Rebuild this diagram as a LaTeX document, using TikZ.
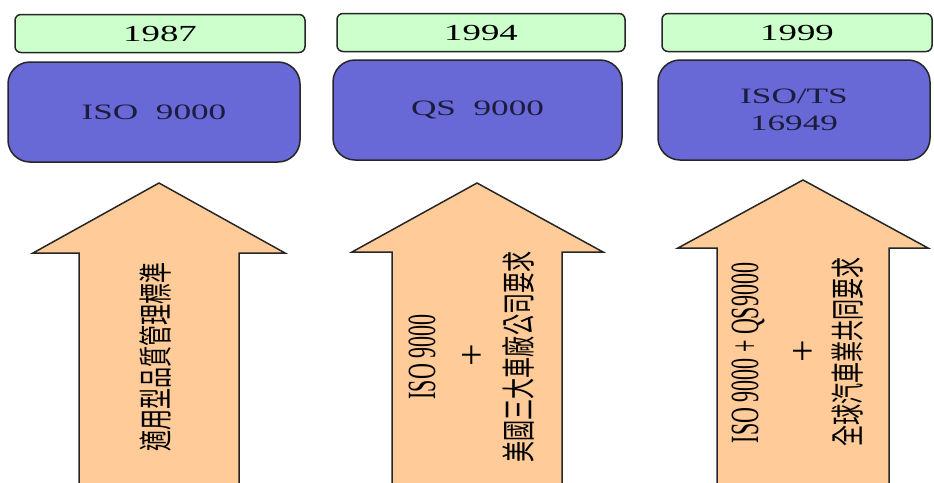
\documentclass[tikz,border=0pt]{standalone}
\usepackage{fontspec}
\usepackage{tikz}
\setmainfont{Liberation Serif}
\newfontfamily\widefont[FakeStretch=1.6]{Liberation Serif}
\newfontfamily\narrowfont[FakeStretch=0.55]{Liberation Serif}
\newfontfamily\cjkfont[FakeStretch=0.62]{Noto Sans CJK TC}
\definecolor{yeargreen}{RGB}{204,255,204}
\definecolor{stdblue}{RGB}{104,104,214}
\definecolor{arrowpeach}{RGB}{255,204,153}
\definecolor{stdtext}{RGB}{28,28,60}

\begin{document}
\begin{tikzpicture}[x=1pt,y=-1pt,
        yearbox/.style={draw=black!85, fill=yeargreen, line width=1.5pt, rounded corners=6pt,
            inner sep=0pt, minimum height=38pt, font=\widefont\fontsize{23}{24}\selectfont},
        stdbox/.style={draw=black!85, fill=stdblue, line width=1.5pt, rounded corners=22pt,
            inner sep=0pt, minimum height=100pt, text=stdtext, align=center,
            font=\widefont\fontsize{22}{27}\selectfont},
        uparrow/.style={draw=black!85, fill=arrowpeach, line width=1.5pt, line join=miter},
        latintext/.style={rotate=90, inner sep=0pt, font=\narrowfont\fontsize{40}{42}\selectfont},
        cjktext/.style={rotate=90, inner sep=0pt, font=\cjkfont\fontsize{34}{36}\selectfont},
        plussign/.style={inner sep=0pt, font=\fontsize{40}{42}\selectfont}]
        \useasboundingbox (0,0) rectangle (934,482);

        % 1987
        \node[yearbox, minimum width=290pt] (y1987) at (160,33.5) {1987};
        \node[stdbox, minimum width=292pt] (iso) at (154,112) {ISO~~9000};
        \draw[uparrow] (79,490) -- (79,253) -- (33,253) -- (159,183) -- (285,253) -- (239,253) -- (239,490);
        \node[cjktext] (isotxt) at (156,357) {適用型品質管理標準};

        % 1994
        \node[yearbox, minimum width=288pt] (y1994) at (481,32.5) {1994};
        \node[stdbox, minimum width=289pt] (qs) at (477.5,110) {QS~~9000};
        \draw[uparrow] (392,490) -- (392,252) -- (352,252) -- (477,183) -- (603,252) -- (562,252) -- (562,490);
        \node[latintext] (qsiso) at (422,357) {ISO 9000};
        \node[plussign] (qsplus) at (472,357) {+};
        \node[cjktext] (qstxt) at (518,357) {美國三大車廠公司要求};

        % 1999
        \node[yearbox, minimum width=270pt] (y1999) at (797,32.5) {1999};
        \node[stdbox, minimum width=272pt] (ts) at (794,110) {ISO/TS\\16949};
        \draw[uparrow] (717,490) -- (717,248) -- (678,248) -- (803,180) -- (928,248) -- (889,248) -- (889,490);
        \node[latintext] (tsiso) at (748,353) {ISO 9000 + QS9000};
        \node[plussign] (tsplus) at (803,353) {+};
        \node[cjktext] (tstxt) at (848,352) {全球汽車業共同要求};
\end{tikzpicture}
\end{document}
